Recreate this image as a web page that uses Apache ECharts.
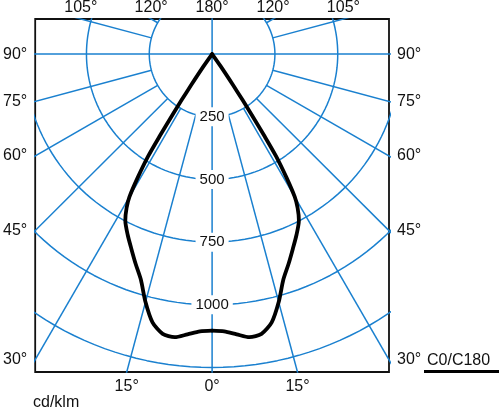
<!DOCTYPE html>
<html><head><meta charset="utf-8">
<script src="https://cdn.jsdelivr.net/npm/echarts@6/dist/echarts.min.js"></script>
<style>html,body{margin:0;padding:0;background:#fff}#c{width:500px;height:409px}</style>
</head><body><div id="c"></div>
<script>
// Luminous intensity (cd/klm), symmetric C0/C180 half-curve: angle from nadir (deg) -> value
const curveAngles = [0, 2.5, 5, 7.5, 10, 12.5, 15, 17.5, 20, 22.5, 25, 27.5, 29, 30, 31, 32, 32.5, 33, 33.5, 34, 35, 35.5];
const curveValues = [1103, 1107, 1122, 1139, 1133, 1096, 1024, 943, 890, 840, 795, 748, 702, 658, 575, 480, 390, 290, 220, 150, 60, 0];
// Polar grid
const circleValues = [250, 500, 750, 1000, 1250];
const ringLabelValues = [250, 500, 750, 1000];
const lowerRayAngles = [15, 30, 45, 60, 75];
const upperRayAngles = [105, 120];
// Tick labels
const sideTickAngles = [90, 75, 60, 45, 30];
const bottomTickAngles = [0, 15];
const topTickAngles = [105, 120, 180];

// axis extents (cd/klm units)
const X_MIN = -704, X_MAX = 704, Y_MIN = -1268, Y_MAX = 140;
const BLUE = '#1a80cf';
const TEXT = '#111';
const FF = '"Liberation Sans", Arial, sans-serif';
const rad = d => d * Math.PI / 180;
const deg = r => r * 180 / Math.PI;
const pt = (a, v, side) => [side * v * Math.sin(rad(a)), -v * Math.cos(rad(a))];

const series = [];
const gridLine = (data) => ({
  type: 'line', data, showSymbol: false, symbol: 'none', silent: true, clip: true, z: 1,
  lineStyle: { color: BLUE, width: 1.5 }, animation: false
});
// circles
circleValues.forEach(R => {
  const d = [];
  for (let t = 0; t <= 360; t += 2) d.push([R * Math.sin(rad(t)), R * Math.cos(rad(t))]);
  series.push(gridLine(d));
});
// axes cross
series.push(gridLine([[0, -3000], [0, 3000]]));
series.push(gridLine([[-3000, 0], [3000, 0]]));
// rays from first ring outward
lowerRayAngles.concat(upperRayAngles).forEach(a => {
  [-1, 1].forEach(side => series.push(gridLine([pt(a, circleValues[0], side), pt(a, 4000, side)])));
});
// ring labels
series.push({
  type: 'scatter', data: ringLabelValues.map(v => [0, -v, v]), symbolSize: 1, z: 2, silent: true,
  itemStyle: { color: '#fff', opacity: 1 }, animation: false,
  label: { show: true, position: 'inside', formatter: p => String(p.value[2]), backgroundColor: '#fff',
    padding: [2, 4], fontSize: 15, color: TEXT, opacity: 1, fontFamily: FF }
});
// intensity curve halves
[-1, 1].forEach(side => series.push({
  type: 'line', data: curveAngles.map((a, i) => pt(a, curveValues[i], side)), showSymbol: false, symbol: 'none',
  smooth: 0.25, clip: true, z: 3, silent: true, animation: false,
  lineStyle: { color: '#000', width: 3.8, join: 'round', cap: 'round' }
}));

const uniq = arr => Array.from(new Set(arr.map(v => Math.round(v * 1000) / 1000)));
const sideVals = uniq(sideTickAngles.map(a => a === 90 ? 0 : -X_MAX / Math.tan(rad(a))));
const bottomVals = uniq(bottomTickAngles.flatMap(a => [-1, 1].map(s => s * (-Y_MIN) * Math.tan(rad(a)))));
const topVals = uniq(topTickAngles.flatMap(a => [-1, 1].map(s => a === 180 ? 0 : s * Y_MAX / Math.tan(rad(a - 90)))));
const font = { fontSize: 16, color: TEXT, fontFamily: FF };

const common = { type: 'value', axisTick: { show: false }, splitLine: { show: false }, axisLine: { show: false } };
const option = {
  animation: false,
  grid: { left: 32, top: 15, width: 357, height: 357, show: true, borderColor: '#111', borderWidth: 1.8, backgroundColor: 'transparent' },
  xAxis: [
    Object.assign({}, common, { position: 'bottom', min: X_MIN, max: X_MAX,
      axisLabel: Object.assign({ customValues: bottomVals, margin: 7,
        formatter: v => Math.round(deg(Math.atan2(Math.abs(v), -Y_MIN))) + '°' }, font) }),
    Object.assign({}, common, { position: 'top', min: X_MIN, max: X_MAX,
      axisLabel: Object.assign({ customValues: topVals, margin: 3,
        formatter: v => Math.round(90 + deg(Math.atan2(Y_MAX, Math.abs(v)))) + '°' }, font) })
  ],
  yAxis: [
    Object.assign({}, common, { position: 'left', min: Y_MIN, max: Y_MAX,
      axisLabel: Object.assign({ customValues: sideVals, margin: 8,
        formatter: v => Math.round(deg(Math.atan2(X_MAX, -v))) + '°' }, font) }),
    Object.assign({}, common, { position: 'right', min: Y_MIN, max: Y_MAX,
      axisLabel: Object.assign({ customValues: sideVals, margin: 8,
        formatter: v => Math.round(deg(Math.atan2(X_MAX, -v))) + '°' }, font) })
  ],
  graphic: [
    { type: 'text', left: 33, top: 395, style: { text: 'cd/klm', font: '16px ' + FF, fill: TEXT } },
    { type: 'text', left: 427, top: 353, style: { text: 'C0/C180', font: '16px ' + FF, fill: TEXT } },
    { type: 'line', shape: { x1: 424, y1: 371.5, x2: 499, y2: 371.5 }, style: { stroke: '#000', lineWidth: 3 } }
  ],
  series
};
const chart = echarts.init(document.getElementById('c'), null, { renderer: 'canvas' });
chart.setOption(option);
</script></body></html>
